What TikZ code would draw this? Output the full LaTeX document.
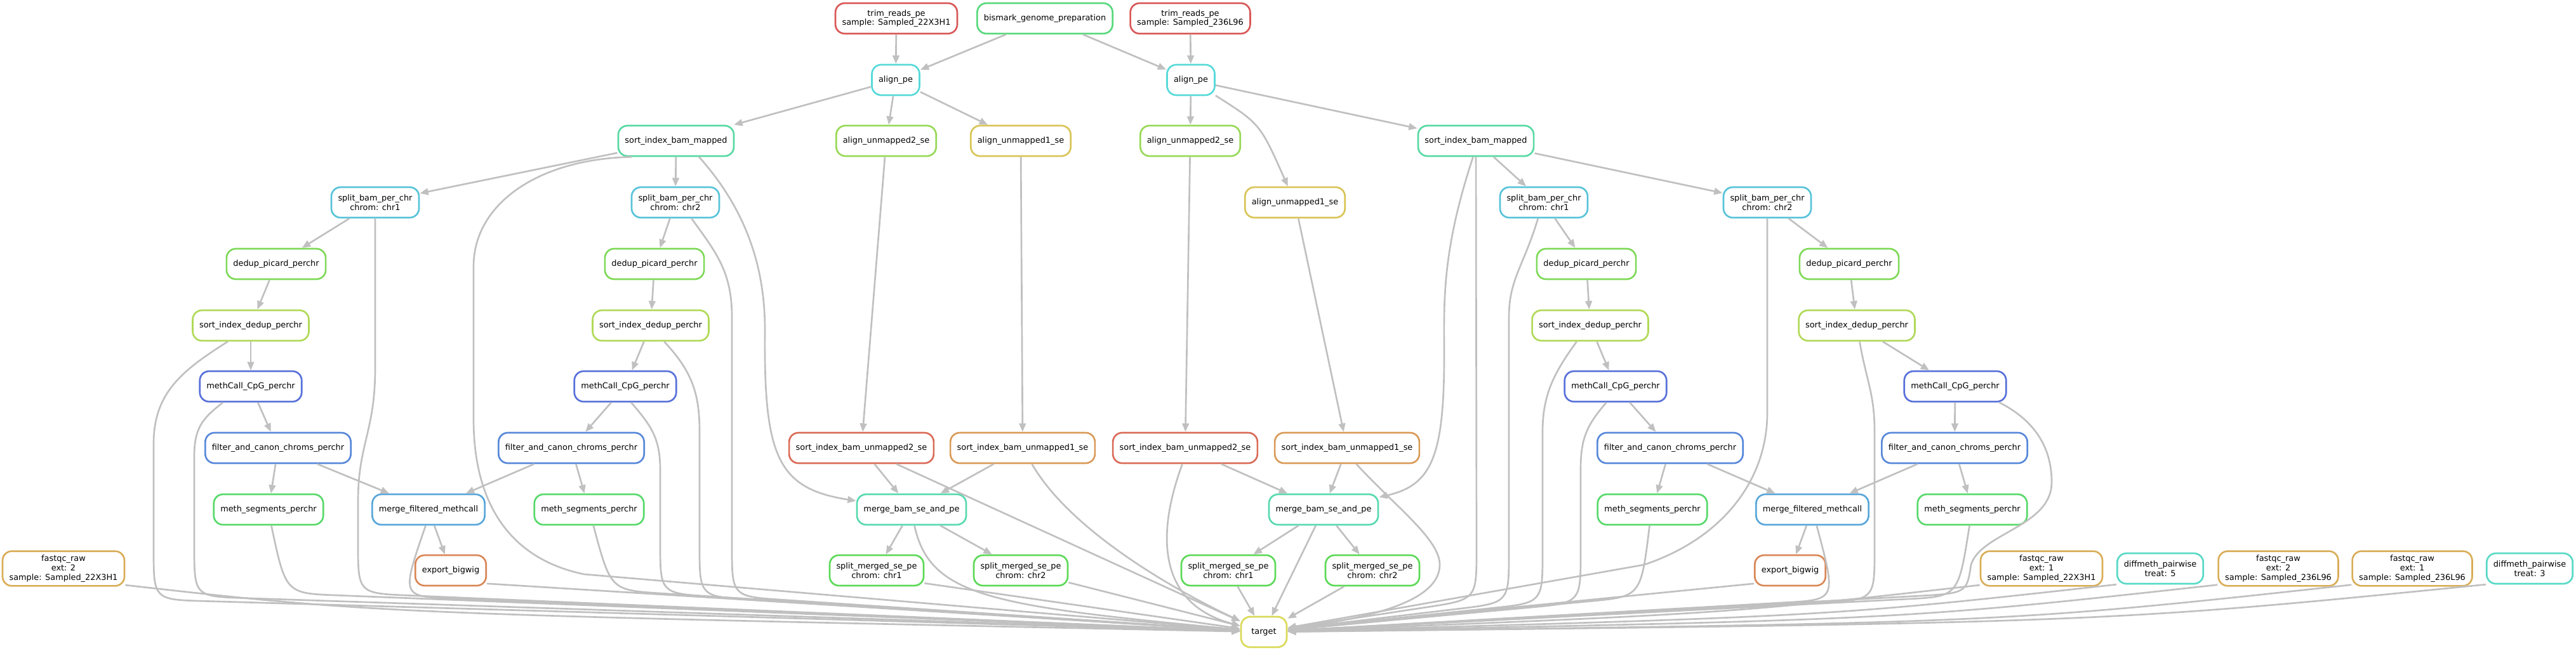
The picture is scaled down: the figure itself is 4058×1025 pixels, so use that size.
\documentclass[tikz,border=0pt]{standalone}
\usepackage{fontspec}
\setmainfont{DejaVu Sans}
\usetikzlibrary{arrows.meta,calc}

\definecolor{edgegrey}{HTML}{C0C0C0}
\definecolor{trimcol}{HTML}{D95757}
\definecolor{bgpcol}{HTML}{57D97B}
\definecolor{aligncol}{HTML}{57D9D9}
\definecolor{simcol}{HTML}{57D9A3}
\definecolor{autwocol}{HTML}{98D957}
\definecolor{auonecol}{HTML}{D9C457}
\definecolor{splitcol}{HTML}{57C3D9}
\definecolor{dedupcol}{HTML}{7DD957}
\definecolor{sidcol}{HTML}{B0D957}
\definecolor{mccol}{HTML}{5770D9}
\definecolor{fccol}{HTML}{5788D9}
\definecolor{mscol}{HTML}{57D96A}
\definecolor{mfcol}{HTML}{57A6D9}
\definecolor{ebcol}{HTML}{D98757}
\definecolor{siutwocol}{HTML}{D96B57}
\definecolor{siuonecol}{HTML}{D99A57}
\definecolor{mbcol}{HTML}{57D9B0}
\definecolor{smcol}{HTML}{5CD957}
\definecolor{fqcol}{HTML}{D9AD57}
\definecolor{dmcol}{HTML}{57D9C6}
\definecolor{tgtcol}{HTML}{D9D957}

\tikzset{
  rule/.style={draw=#1, fill=white, rounded corners=11bp, line width=2bp,
    minimum width=54bp, minimum height=36bp, inner xsep=7.9bp, inner ysep=1bp,
    align=center, font=\fontsize{9.7}{11}\selectfont},
  tall/.style={minimum height=41bp},
  dep/.style={draw=edgegrey, line width=2bp, -{Triangle[length=10bp,width=8bp]}},
}
% a path that turns at a corner and then runs straight into target
\def\tosink#1#2{\draw[dep] #1 .. controls (#2) .. ($(#2)!60bp!(target)$) -- (target);}

\begin{document}
\begin{tikzpicture}[x=0.75bp, y=0.75bp]
\useasboundingbox (0,0) rectangle (4058,-1025);
%%%%% jobs %%%%%
\node[rule=trimcol] (trimA) at (1412,-29) {trim\_reads\_pe\\sample: Sampled\_22X3H1};
\node[rule=bgpcol] (bgp) at (1646,-29) {bismark\_genome\_preparation};
\node[rule=trimcol] (trimB) at (1875,-29) {trim\_reads\_pe\\sample: Sampled\_236L96};

\node[rule=aligncol] (alignA) at (1411,-126) {align\_pe};
\node[rule=aligncol] (alignB) at (1876,-126) {align\_pe};

\node[rule=simcol] (simA) at (1065,-222) {sort\_index\_bam\_mapped};
\node[rule=autwocol] (au2A) at (1396,-222) {align\_unmapped2\_se};
\node[rule=auonecol] (au1A) at (1608,-222) {align\_unmapped1\_se};
\node[rule=autwocol] (au2B) at (1875,-222) {align\_unmapped2\_se};
\node[rule=simcol] (simB) at (2325,-222) {sort\_index\_bam\_mapped};

\node[rule=splitcol] (splitA1) at (591,-319) {split\_bam\_per\_chr\\chrom: chr1};
\node[rule=splitcol] (splitA2) at (1064,-319) {split\_bam\_per\_chr\\chrom: chr2};
\node[rule=auonecol] (au1B) at (2040,-319) {align\_unmapped1\_se};
\node[rule=splitcol] (splitB1) at (2432,-319) {split\_bam\_per\_chr\\chrom: chr1};
\node[rule=splitcol] (splitB2) at (2784,-319) {split\_bam\_per\_chr\\chrom: chr2};

\node[rule=dedupcol] (dedupA1) at (435,-416) {dedup\_picard\_perchr};
\node[rule=dedupcol] (dedupA2) at (1031,-416) {dedup\_picard\_perchr};
\node[rule=dedupcol] (dedupB1) at (2499,-416) {dedup\_picard\_perchr};
\node[rule=dedupcol] (dedupB2) at (2913,-416) {dedup\_picard\_perchr};

\node[rule=sidcol] (sidA1) at (395,-513) {sort\_index\_dedup\_perchr};
\node[rule=sidcol] (sidA2) at (1025,-513) {sort\_index\_dedup\_perchr};
\node[rule=sidcol] (sidB1) at (2505,-513) {sort\_index\_dedup\_perchr};
\node[rule=sidcol] (sidB2) at (2925,-513) {sort\_index\_dedup\_perchr};

\node[rule=mccol] (mcA1) at (395,-609) {methCall\_CpG\_perchr};
\node[rule=mccol] (mcA2) at (985,-609) {methCall\_CpG\_perchr};
\node[rule=mccol] (mcB1) at (2545,-609) {methCall\_CpG\_perchr};
\node[rule=mccol] (mcB2) at (3080,-609) {methCall\_CpG\_perchr};

\node[rule=fccol] (fcA1) at (438,-706) {filter\_and\_canon\_chroms\_perchr};
\node[rule=fccol] (fcA2) at (900,-706) {filter\_and\_canon\_chroms\_perchr};
\node[rule=siutwocol] (siu2A) at (1357,-706) {sort\_index\_bam\_unmapped2\_se};
\node[rule=siuonecol] (siu1A) at (1611,-706) {sort\_index\_bam\_unmapped1\_se};
\node[rule=siutwocol] (siu2B) at (1867,-706) {sort\_index\_bam\_unmapped2\_se};
\node[rule=siuonecol] (siu1B) at (2122,-706) {sort\_index\_bam\_unmapped1\_se};
\node[rule=fccol] (fcB1) at (2631,-706) {filter\_and\_canon\_chroms\_perchr};
\node[rule=fccol] (fcB2) at (3079,-706) {filter\_and\_canon\_chroms\_perchr};

\node[rule=mscol] (msA1) at (423,-803) {meth\_segments\_perchr};
\node[rule=mfcol] (mfA) at (675,-803) {merge\_filtered\_methcall};
\node[rule=mscol] (msA2) at (928,-803) {meth\_segments\_perchr};
\node[rule=mbcol] (mbA) at (1436,-803) {merge\_bam\_se\_and\_pe};
\node[rule=mbcol] (mbB) at (2085,-803) {merge\_bam\_se\_and\_pe};
\node[rule=mscol] (msB1) at (2603,-803) {meth\_segments\_perchr};
\node[rule=mfcol] (mfB) at (2855,-803) {merge\_filtered\_methcall};
\node[rule=mscol] (msB2) at (3107,-803) {meth\_segments\_perchr};

\node[rule=fqcol, tall] (fqA2) at (100,-896) {fastqc\_raw\\ext: 2\\sample: Sampled\_22X3H1};
\node[rule=ebcol] (ebA) at (710,-899) {export\_bigwig};
\node[rule=smcol] (smA1) at (1381,-899) {split\_merged\_se\_pe\\chrom: chr1};
\node[rule=smcol] (smA2) at (1608,-899) {split\_merged\_se\_pe\\chrom: chr2};
\node[rule=smcol] (smB1) at (1935,-899) {split\_merged\_se\_pe\\chrom: chr1};
\node[rule=smcol] (smB2) at (2162,-899) {split\_merged\_se\_pe\\chrom: chr2};
\node[rule=ebcol] (ebB) at (2820,-899) {export\_bigwig};
\node[rule=fqcol, tall] (fqA1) at (3216,-896) {fastqc\_raw\\ext: 1\\sample: Sampled\_22X3H1};
\node[rule=dmcol] (dm5) at (3403,-896) {diffmeth\_pairwise\\treat: 5};
\node[rule=fqcol, tall] (fqB2) at (3589,-896) {fastqc\_raw\\ext: 2\\sample: Sampled\_236L96};
\node[rule=fqcol, tall] (fqB1) at (3800,-896) {fastqc\_raw\\ext: 1\\sample: Sampled\_236L96};
\node[rule=dmcol] (dm3) at (3985,-896) {diffmeth\_pairwise\\treat: 3};

\node[rule=tgtcol] (target) at (1991,-996) {target};

%%%%% dependencies %%%%%
\draw[dep] (trimA) -- (alignA);
\draw[dep] (bgp) -- (alignA);
\draw[dep] (bgp) -- (alignB);
\draw[dep] (trimB) -- (alignB);
\draw[dep] (alignA) -- (simA);
\draw[dep] (alignA) -- (au2A);
\draw[dep] (alignA) -- (au1A);
\draw[dep] (alignB) -- (au2B);
\draw[dep] (alignB) .. controls (1985,-195) .. (au1B);
\draw[dep] (alignB) -- (simB);

\draw[dep] (simA) -- (splitA1);
\draw[dep] (simA) -- (splitA2);
\draw[dep] (simB) -- (splitB1);
\draw[dep] (simB) -- (splitB2);
\foreach \c in {A1,A2,B1,B2}{
  \draw[dep] (split\c) -- (dedup\c);
  \draw[dep] (dedup\c) -- (sid\c);
  \draw[dep] (sid\c) -- (mc\c);
  \draw[dep] (mc\c) -- (fc\c);
  \draw[dep] (fc\c) -- (ms\c);
}
\draw[dep] (fcA1) -- (mfA);
\draw[dep] (fcA2) -- (mfA);
\draw[dep] (fcB1) -- (mfB);
\draw[dep] (fcB2) -- (mfB);
\draw[dep] (mfA) -- (ebA);
\draw[dep] (mfB) -- (ebB);

\draw[dep] (au2A) -- (siu2A);
\draw[dep] (au1A) -- (siu1A);
\draw[dep] (au2B) -- (siu2B);
\draw[dep] (au1B) -- (siu1B);
\draw[dep] (siu2A) -- (mbA);
\draw[dep] (siu1A) -- (mbA);
\draw[dep] (siu2B) -- (mbB);
\draw[dep] (siu1B) -- (mbB);
\draw[dep] (simA.-35) .. controls (1175,-330) and (1205,-420) .. (1205,-520) .. controls (1203,-720) and (1225,-770) .. (mbA);
\draw[dep] (simB.-100) .. controls (2270,-400) and (2275,-480) .. (2275,-560) .. controls (2275,-720) and (2255,-765) .. (mbB);
\draw[dep] (mbA) -- (smA1);
\draw[dep] (mbA) -- (smA2);
\draw[dep] (mbB) -- (smB1);
\draw[dep] (mbB) -- (smB2);

% everything ends in target, left side
\draw[dep] (fqA2.-15) .. controls ($(fqA2.-15)+(400,-45)$) .. (target);
\tosink{(sidA1.-145) .. controls (285,-585) and (242,-620) .. (242,-700) -- (242,-865)}{242,-945}
\tosink{(mcA1.-150) .. controls (318,-660) and (306,-675) .. (306,-720) -- (306,-860)}{306,-940}
\tosink{(msA1.-80)}{450,-935}
\tosink{(splitA1) -- (591,-580) .. controls (591,-680) and (564,-700) .. (564,-790) -- (564,-855)}{564,-935}
\tosink{(mfA.-100)}{632,-940}
\draw[dep] (ebA.-20) -- (target);
\draw[dep] (simA.-160) .. controls (850,-250) and (746,-320) .. (746,-420) -- (746,-660) .. controls (746,-790) and (800,-880) .. (920,-905) -- (target);
\tosink{(msA2.-75)}{962,-930}
\tosink{(mcA2.-70) .. controls (1025,-670) and (1040,-690) .. (1040,-740) -- (1040,-855)}{1040,-935}
\tosink{(sidA2.-50) .. controls (1090,-585) and (1102,-620) .. (1102,-680) -- (1102,-860)}{1102,-940}
\tosink{(splitA2.-45) .. controls (1130,-400) and (1153,-430) .. (1153,-500) -- (1153,-860)}{1153,-940}
\draw[dep] (siu2A) -- (target);
\draw[dep] (mbA.-80) .. controls (1465,-940) and (1560,-955) .. (target);
\draw[dep] (smA1.-15) -- (target);
\draw[dep] (smA2) -- (target);
\draw[dep] (siu1A.-60) .. controls +(-60:150) and +(155:70) .. (target);

% right side
\draw[dep] (smB1) -- (target);
\draw[dep] (mbB) -- (target);
\draw[dep] (smB2) -- (target);
\draw[dep] (siu2B.-100) .. controls (1815,-860) and (1835,-955) .. (target);
\draw[dep] (siu1B.-60) .. controls (2200,-800) and (2268,-850) .. (2268,-890) .. controls (2268,-950) and (2150,-975) .. (target);
\tosink{(simB) -- (2326,-865)}{2326,-945}
\tosink{(splitB1.-110) .. controls (2400,-420) and (2377,-440) .. (2377,-500) -- (2377,-870)}{2377,-950}
\tosink{(sidB1.-130) .. controls (2450,-585) and (2430,-620) .. (2430,-680) -- (2430,-870)}{2430,-950}
\tosink{(mcB1.-120) .. controls (2500,-670) and (2490,-690) .. (2490,-740) -- (2490,-870)}{2490,-950}
\tosink{(msB1.-100)}{2585,-940}
\draw[dep] (splitB2) -- (2784,-650) .. controls (2784,-760) and (2710,-850) .. (2590,-890) -- (target);
\tosink{(mfB.-75)}{2893,-945}
\draw[dep] (ebB.-160) -- (target);
\tosink{(sidB2.-80) .. controls (2940,-600) and (2953,-620) .. (2953,-680) -- (2953,-865)}{2953,-945}
\tosink{(msB2.-100)}{3085,-940}
\tosink{(mcB2.-20) .. controls (3200,-660) and (3232,-700) .. (3232,-760) .. controls (3232,-830) and (3120,-840) .. (3105,-890)}{3098,-935}
\draw[dep] (fqA1.-165) .. controls ($(fqA1.-165)+(-400,-45)$) .. (target);
\draw[dep] (dm5.-160) .. controls ($(dm5.-160)+(-450,-50)$) .. (target);
\draw[dep] (fqB2.-165) .. controls ($(fqB2.-165)+(-500,-55)$) .. (target);
\draw[dep] (fqB1.-165) .. controls ($(fqB1.-165)+(-550,-60)$) .. (target);
\draw[dep] (dm3.-160) .. controls ($(dm3.-160)+(-600,-60)$) .. (target);
\end{tikzpicture}
\end{document}
